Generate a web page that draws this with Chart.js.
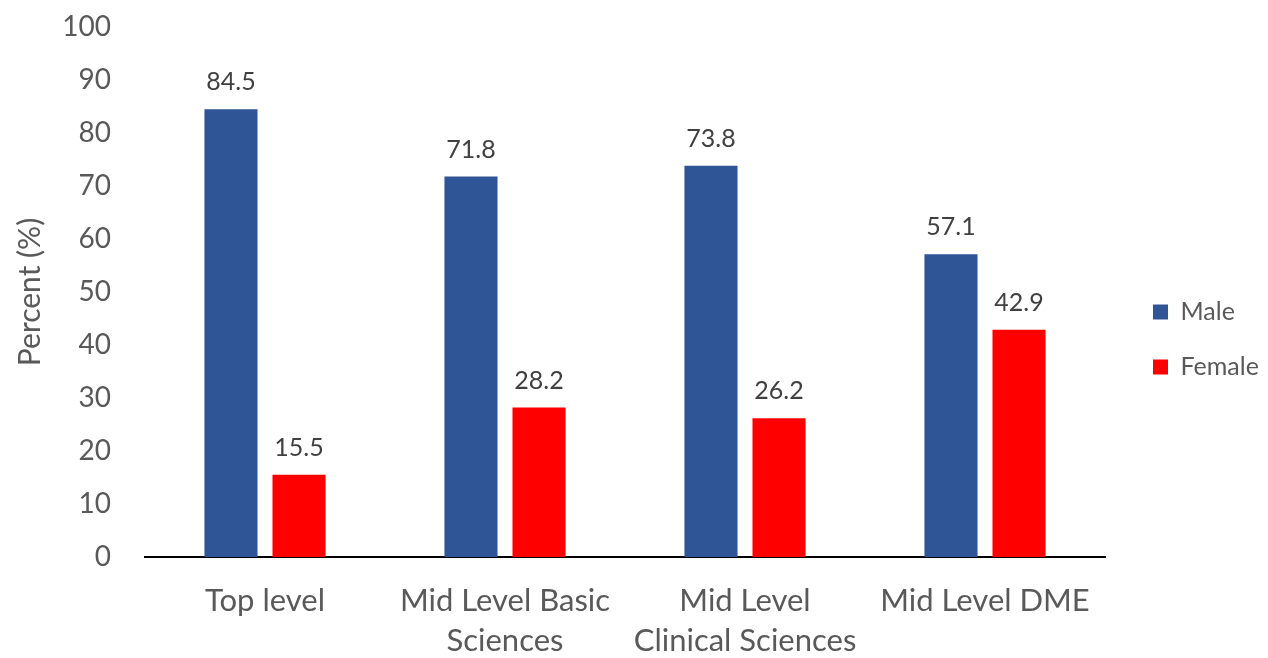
<!DOCTYPE html>
<html>
<head>
<meta charset="utf-8">
<script src="https://cdn.jsdelivr.net/npm/chart.js@4.4.0/dist/chart.umd.min.js"></script>
<style>
  html, body { margin: 0; padding: 0; background: #fff; }
  #wrap { width: 1268px; height: 658px; }
</style>
</head>
<body>
<div id="wrap"><canvas id="myChart"></canvas></div>
<script>
const categories = ['Top level', ['Mid Level Basic', 'Sciences'], ['Mid Level', 'Clinical Sciences'], 'Mid Level DME'];
const maleValues = [84.5, 71.8, 73.8, 57.1];
const femaleValues = [15.5, 28.2, 26.2, 42.9];
const yTicks = [0, 10, 20, 30, 40, 50, 60, 70, 80, 90, 100];

// draw value labels above each bar
const valueLabels = {
    id: 'valueLabels',
    afterDatasetsDraw(chart) {
        const ctx = chart.ctx;
        ctx.save();
        ctx.font = '25px Lato, sans-serif';
        ctx.fillStyle = '#404040';
        ctx.textAlign = 'center';
        ctx.textBaseline = 'middle';
        chart.data.datasets.forEach((ds, i) => {
            chart.getDatasetMeta(i).data.forEach((bar, j) => {
                ctx.fillText(ds.data[j].toFixed(1), bar.x, bar.y - 27);
            });
        });
        ctx.restore();
    }
};

// leave a gap between plot and legend like the original
const legendGap = {
    id: 'legendGap',
    beforeLayout(chart) {
        const legend = chart.legend;
        if (legend && !legend._patched) {
            const fit = legend.fit.bind(legend);
            legend.fit = function () {
                fit();
                this.width = 153;
            };
            legend._patched = true;
        }
    },
    afterLayout(chart) {
        chart.legend.left = chart.chartArea.right + 18;
        chart.legend.top -= 3;
        chart.legend.bottom -= 3;
    }
};

const ctx = document.getElementById('myChart').getContext('2d');
const myChart = new Chart(ctx, {
    type: 'bar',
    data: {
        labels: categories,
        datasets: [{
            label: 'Male',
            data: maleValues,
            backgroundColor: '#2F5597',
            categoryPercentage: 0.567,
            barPercentage: 0.78
        }, {
            label: 'Female',
            data: femaleValues,
            backgroundColor: '#FF0000',
            categoryPercentage: 0.567,
            barPercentage: 0.78
        }]
    },
    options: {
        responsive: true,
        maintainAspectRatio: false,
        animation: false,
        layout: { padding: { top: 27, right: 10, left: 8, bottom: 0 } },
        plugins: {
            tooltip: { enabled: false },
            legend: {
                position: 'right',
                labels: {
                    boxWidth: 15,
                    boxHeight: 15,
                    padding: 30,
                    color: '#595959',
                    font: { size: 25, family: 'Lato, sans-serif' }
                }
            }
        },
        scales: {
            x: {
                afterFit(axis) { axis.height = 101; },
                grid: { display: false, drawTicks: false },
                border: { display: true, color: '#000', width: 2 },
                ticks: {
                    color: '#595959',
                    padding: 24,
                    font: { size: 31, family: 'Lato, sans-serif', lineHeight: 1.29 }
                }
            },
            y: {
                min: 0,
                max: 100,
                afterBuildTicks(axis) {
                    axis.ticks = yTicks.map(v => ({ value: v }));
                },
                afterFit(axis) {
                    axis.width = 137;
                    axis.paddingTop = 0;
                    axis.paddingBottom = 0;
                },
                grid: { display: false, drawTicks: false },
                border: { display: false },
                ticks: {
                    color: '#595959',
                    padding: 34,
                    font: { size: 28, family: 'Lato, sans-serif' }
                },
                title: {
                    display: true,
                    text: 'Percent (%)',
                    color: '#595959',
                    padding: { bottom: 12 },
                    font: { size: 30, family: 'Lato, sans-serif' }
                }
            }
        }
    },
    plugins: [valueLabels, legendGap]
});
</script>
</body>
</html>
